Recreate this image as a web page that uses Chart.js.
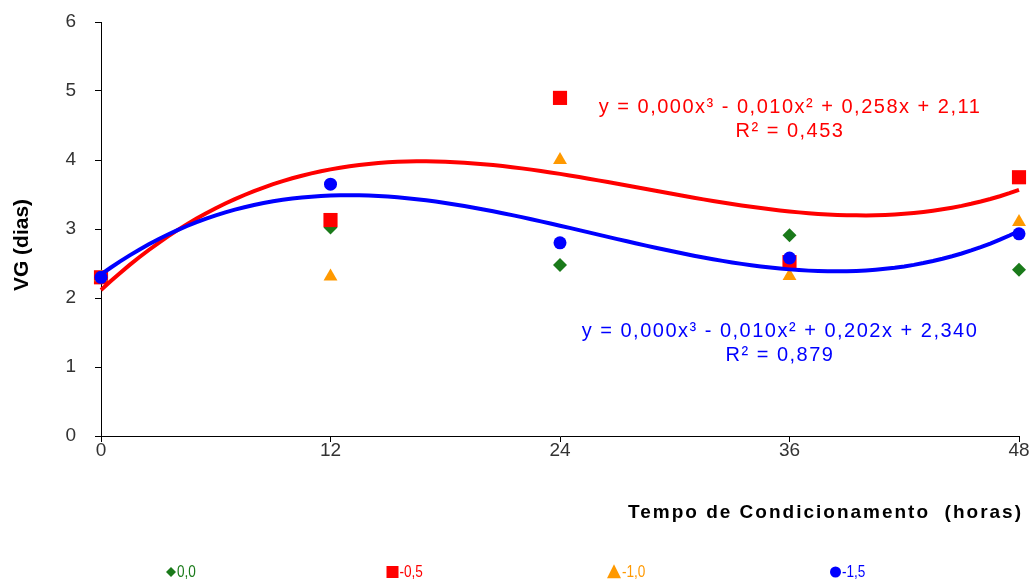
<!DOCTYPE html>
<html>
<head>
<meta charset="utf-8">
<script src="https://cdn.jsdelivr.net/npm/chart.js@4/dist/chart.umd.min.js"></script>
<style>
  html, body { margin: 0; padding: 0; background: #ffffff; }
  #wrap { width: 1032px; height: 580px; position: relative; }
</style>
</head>
<body>
<div id="wrap"><canvas id="c" width="1032" height="580"></canvas></div>
<script>
// ---- data ----
const hours = [0, 12, 24, 36, 48];
const vg00 = [2.30, 3.02, 2.48, 2.91, 2.41];   // 0,0
const vg05 = [2.30, 3.13, 4.90, 2.52, 3.75];   // -0,5
const vg10 = [2.30, 2.31, 4.00, 2.32, 3.10];   // -1,0
const vg15 = [2.30, 3.65, 2.80, 2.58, 2.93];   // -1,5
const seriesNames = ['0,0', '-0,5', '-1,0', '-1,5'];
const xTickValues = [0, 12, 24, 36, 48];
const yTickValues = [0, 1, 2, 3, 4, 5, 6];
const xTitle = 'Tempo de Condicionamento  (horas)';
const yTitle = 'VG (dias)';
const eqRed = ['y = 0,000x³ - 0,010x² + 0,258x + 2,11', 'R² = 0,453'];
const eqBlue = ['y = 0,000x³ - 0,010x² + 0,202x + 2,340', 'R² = 0,879'];

// least-squares cubic trend (as the spreadsheet trendline does)
function cubicFit(xs, ys) {
  const n = 4;
  const A = [], b = [];
  for (let i = 0; i < n; i++) {
    A.push([]);
    for (let j = 0; j < n; j++) A[i].push(xs.reduce((s, x) => s + Math.pow(x, i + j), 0));
    b.push(xs.reduce((s, x, k) => s + Math.pow(x, i) * ys[k], 0));
  }
  for (let i = 0; i < n; i++) {
    let p = i;
    for (let r = i + 1; r < n; r++) if (Math.abs(A[r][i]) > Math.abs(A[p][i])) p = r;
    [A[i], A[p]] = [A[p], A[i]]; [b[i], b[p]] = [b[p], b[i]];
    for (let r = i + 1; r < n; r++) {
      const f = A[r][i] / A[i][i];
      for (let c = i; c < n; c++) A[r][c] -= f * A[i][c];
      b[r] -= f * b[i];
    }
  }
  const coef = new Array(n).fill(0);
  for (let i = n - 1; i >= 0; i--) {
    let s = b[i];
    for (let c = i + 1; c < n; c++) s -= A[i][c] * coef[c];
    coef[i] = s / A[i][i];
  }
  return coef;
}
function trendPoints(xs, ys) {
  const c = cubicFit(xs, ys);
  const pts = [];
  const x0 = xs[0], x1 = xs[xs.length - 1];
  for (let k = 0; k <= 96; k++) {
    const x = x0 + (x1 - x0) * k / 96;
    pts.push({ x: x, y: c[0] + c[1] * x + c[2] * x * x + c[3] * x * x * x });
  }
  return pts;
}
const pairs = (ys) => hours.map((h, i) => ({ x: h, y: ys[i] }));

const GREEN = '#1a7a1a', RED = '#ff0000', ORANGE = '#ff9900', BLUE = '#0000ff';
const FONT = "'Liberation Sans', Arial, sans-serif";

const datasets = [
  { label: seriesNames[0], data: pairs(vg00), pointStyle: 'rectRot', pointRadius: 7, backgroundColor: GREEN, borderColor: GREEN, pointBorderWidth: 0, showLine: false, order: 4, clip: false },
  { label: seriesNames[1], data: pairs(vg05), pointStyle: 'rect', pointRadius: 10, backgroundColor: RED, borderColor: RED, pointBorderWidth: 0, showLine: false, order: 3, clip: false },
  { label: seriesNames[2], data: pairs(vg10), pointStyle: 'triangle', pointRadius: 8, backgroundColor: ORANGE, borderColor: ORANGE, pointBorderWidth: 0, showLine: false, order: 2, clip: false },
  { label: seriesNames[3], data: pairs(vg15), pointStyle: 'circle', pointRadius: 6.5, backgroundColor: BLUE, borderColor: BLUE, pointBorderWidth: 0, showLine: false, order: 1, clip: false },
  { label: 'trend -0,5', data: trendPoints(hours, vg05), showLine: true, borderColor: RED, borderWidth: 4, pointRadius: 0, fill: false, order: -1, clip: false },
  { label: 'trend -1,5', data: trendPoints(hours, vg15), showLine: true, borderColor: BLUE, borderWidth: 4, pointRadius: 0, fill: false, order: -2, clip: false }
];

function drawMarker(ctx, style, x, y, r, color) {
  ctx.save();
  ctx.fillStyle = color;
  ctx.beginPath();
  if (style === 'rectRot') {
    ctx.moveTo(x - r, y); ctx.lineTo(x, y - r); ctx.lineTo(x + r, y); ctx.lineTo(x, y + r); ctx.closePath();
  } else if (style === 'rect') {
    ctx.rect(x - r, y - r, 2 * r, 2 * r);
  } else if (style === 'triangle') {
    ctx.moveTo(x, y - r * 1.1); ctx.lineTo(x + r, y + r * 0.9); ctx.lineTo(x - r, y + r * 0.9); ctx.closePath();
  } else {
    ctx.arc(x, y, r, 0, Math.PI * 2);
  }
  ctx.fill();
  ctx.restore();
}

const annotationPlugin = {
  id: 'annot',
  afterDraw(chart) {
    const ctx = chart.ctx;
    ctx.save();
    ctx.textBaseline = 'middle';

    // equations
    ctx.font = '20px ' + FONT;
    ctx.textAlign = 'center';
    ctx.letterSpacing = '1.5px';
    ctx.fillStyle = RED;
    ctx.fillText(eqRed[0], 790, 107);
    ctx.fillText(eqRed[1], 790, 131);
    ctx.fillStyle = BLUE;
    ctx.fillText(eqBlue[0], 780, 331);
    ctx.fillText(eqBlue[1], 780, 355);

    // axis titles
    ctx.fillStyle = '#000';
    ctx.font = 'bold 19px ' + FONT;
    ctx.letterSpacing = '2px';
    ctx.textAlign = 'right';
    ctx.fillText(xTitle, 1023, 513);
    ctx.letterSpacing = '0px';
    ctx.save();
    ctx.translate(22, 245);
    ctx.rotate(-Math.PI / 2);
    ctx.textAlign = 'center';
    ctx.font = 'bold 21px ' + FONT;
    ctx.fillText(yTitle, 0, 0);
    ctx.restore();

    // legend
    const colors = [GREEN, RED, ORANGE, BLUE];
    const styles = ['rectRot', 'rect', 'triangle', 'circle'];
    const sizes = [5, 6, 7, 5.5];
    ctx.font = '17px ' + FONT;
    ctx.textAlign = 'left';
    const ly = 572;
    for (let i = 0; i < seriesNames.length; i++) {
      const mx = 171 + i * 221.5;
      drawMarker(ctx, styles[i], mx, ly, sizes[i], colors[i]);
      ctx.fillStyle = colors[i];
      ctx.save();
      ctx.translate(mx + sizes[i] + 1, ly);
      ctx.scale(0.8, 1);
      ctx.fillText(seriesNames[i], 0, 0);
      ctx.restore();
    }
    ctx.restore();
  }
};

new Chart(document.getElementById('c'), {
  type: 'scatter',
  data: { datasets },
  options: {
    responsive: false,
    animation: false,
    devicePixelRatio: 1,
    layout: { padding: { left: 0, right: 13, top: 22, bottom: 44 } },
    plugins: {
      legend: { display: false },
      tooltip: { enabled: false }
    },
    scales: {
      x: {
        type: 'linear',
        min: 0, max: 48,
        afterBuildTicks: (s) => { s.ticks = xTickValues.map(v => ({ value: v })); },
        afterFit: (s) => { s.height = 100; s.paddingLeft = 0; s.paddingRight = 0; },
        grid: { display: true, drawOnChartArea: false, drawTicks: true, tickLength: 6, color: '#000', tickColor: '#000' },
        border: { display: true, color: '#000', width: 1 },
        ticks: { color: '#333', font: { family: FONT, size: 19 }, padding: -3, maxRotation: 0 },
        title: { display: false }
      },
      y: {
        type: 'linear',
        min: 0, max: 6,
        afterBuildTicks: (s) => { s.ticks = yTickValues.map(v => ({ value: v })); },
        afterFit: (s) => { s.width = 101; s.paddingTop = 0; s.paddingBottom = 0; },
        grid: { display: true, drawOnChartArea: false, drawTicks: true, tickLength: 6, color: '#000', tickColor: '#000' },
        border: { display: true, color: '#000', width: 1 },
        ticks: { color: '#333', font: { family: FONT, size: 19 }, padding: 19 },
        title: { display: false }
      }
    }
  },
  plugins: [annotationPlugin]
});
</script>
</body>
</html>
